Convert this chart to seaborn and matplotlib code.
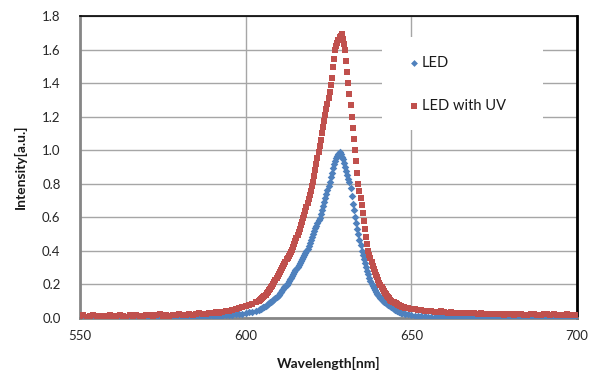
import numpy as np
import pandas as pd
import matplotlib
matplotlib.use("Agg")
import matplotlib.pyplot as plt
from matplotlib.patches import Rectangle
from matplotlib.ticker import FormatStrFormatter
import seaborn as sns

# ---------------- data ----------------
wl_low = [550, 551, 552, 553, 554, 555, 556, 557, 558, 559,
          560, 561, 562, 563, 564, 565, 566, 567, 568, 569,
          570, 571, 572, 573, 574, 575, 576, 577, 578, 579,
          580, 581, 582, 583, 584, 585, 586, 587, 588, 589,
          590, 591, 592, 593, 594, 595, 596, 597, 598, 599,
          600, 601, 602, 603]
wl_mid = [604.00, 604.33, 604.67, 605.00, 605.33, 605.67, 606.00, 606.33, 606.67,
          607.00, 607.33, 607.67, 608.00, 608.33, 608.67, 609.00, 609.33, 609.67,
          610.00, 610.33, 610.67, 611.00, 611.33, 611.67, 612.00, 612.33, 612.67,
          613.00, 613.33, 613.67, 614.00, 614.33, 614.67, 615.00, 615.33, 615.67,
          616.00, 616.33, 616.67, 617.00, 617.33, 617.67, 618.00, 618.33, 618.67,
          619.00, 619.33, 619.67, 620.00, 620.33, 620.67, 621.00, 621.33, 621.67,
          622.00, 622.33, 622.67, 623.00, 623.33, 623.67, 624.00, 624.33, 624.67,
          625.00, 625.33, 625.67, 626.00, 626.33, 626.67, 627.00, 627.33, 627.67,
          628.00, 628.33, 628.67, 629.00, 629.33, 629.67, 630.00, 630.33, 630.67,
          631.00, 631.33, 631.67, 632.00, 632.33, 632.67, 633.00, 633.33, 633.67,
          634.00, 634.33, 634.67, 635.00, 635.33, 635.67, 636.00, 636.33, 636.67,
          637.00, 637.33, 637.67, 638.00, 638.33, 638.67, 639.00, 639.33, 639.67,
          640.00, 640.33, 640.67, 641.00, 641.33, 641.67, 642.00, 642.33, 642.67,
          643.00, 643.33, 643.67, 644.00, 644.33, 644.67, 645.00, 645.33, 645.67,
          646.00, 646.33, 646.67, 647.00, 647.33, 647.67, 648.00]
wl_high = [649, 650, 651, 652, 653, 654, 655, 656, 657, 658,
           659, 660, 661, 662, 663, 664, 665, 666, 667, 668,
           669, 670, 671, 672, 673, 674, 675, 676, 677, 678,
           679, 680, 681, 682, 683, 684, 685, 686, 687, 688,
           689, 690, 691, 692, 693, 694, 695, 696, 697, 698,
           699, 700]

led_low = [0.004, 0.006, 0.003, 0.005, 0.007, 0.004, 0.002, 0.005, 0.006, 0.003,
           0.005, 0.004, 0.007, 0.005, 0.003, 0.006, 0.004, 0.005, 0.007, 0.004,
           0.006, 0.005, 0.003, 0.006, 0.005, 0.007, 0.004, 0.006, 0.005, 0.008,
           0.006, 0.005, 0.007, 0.006, 0.008, 0.007, 0.007, 0.008, 0.009, 0.010,
           0.011, 0.012, 0.013, 0.014, 0.016, 0.017, 0.019, 0.021, 0.023, 0.026,
           0.029, 0.033, 0.037, 0.042]
led_mid = [0.048, 0.052, 0.056, 0.060, 0.064, 0.068, 0.072, 0.077, 0.082,
           0.087, 0.093, 0.098, 0.104, 0.110, 0.116, 0.122, 0.128, 0.134,
           0.140, 0.148, 0.156, 0.165, 0.173, 0.182, 0.190, 0.198, 0.209,
           0.220, 0.230, 0.241, 0.252, 0.262, 0.273, 0.284, 0.295, 0.306,
           0.317, 0.329, 0.340, 0.352, 0.363, 0.375, 0.386, 0.398, 0.414,
           0.431, 0.449, 0.466, 0.484, 0.502, 0.518, 0.534, 0.550, 0.566,
           0.582, 0.598, 0.619, 0.643, 0.667, 0.690, 0.714, 0.738, 0.762,
           0.786, 0.811, 0.839, 0.867, 0.895, 0.915, 0.933, 0.951, 0.965,
           0.978, 0.990, 0.975, 0.962, 0.948, 0.924, 0.900, 0.876, 0.852,
           0.831, 0.811, 0.776, 0.729, 0.681, 0.641, 0.600, 0.567, 0.533,
           0.500, 0.467, 0.433, 0.400, 0.376, 0.353, 0.329, 0.305, 0.283,
           0.262, 0.241, 0.221, 0.200, 0.189, 0.178, 0.167, 0.156, 0.146,
           0.137, 0.129, 0.121, 0.112, 0.104, 0.098, 0.093, 0.089, 0.084,
           0.080, 0.075, 0.070, 0.065, 0.060, 0.055, 0.050, 0.047, 0.043,
           0.040, 0.037, 0.033, 0.030, 0.028, 0.027, 0.025]
led_high = [0.021, 0.017, 0.014, 0.012, 0.010, 0.009, 0.008,
            0.007, 0.006, 0.008, 0.005, 0.006, 0.007, 0.005, 0.004, 0.006, 0.005,
            0.007, 0.004, 0.005, 0.006, 0.004, 0.005, 0.003, 0.006, 0.004, 0.005,
            0.007, 0.004, 0.005, 0.003, 0.006, 0.004, 0.005, 0.003, 0.004, 0.006,
            0.004, 0.003, 0.005, 0.004, 0.006, 0.003, 0.004, 0.005, 0.003, 0.004,
            0.006, 0.004, 0.003, 0.005, 0.004]

uv_low = [0.010, 0.015, 0.008, 0.012, 0.018, 0.010, 0.006, 0.014, 0.011, 0.016,
          0.009, 0.013, 0.020, 0.012, 0.008, 0.015, 0.011, 0.017, 0.013, 0.009,
          0.016, 0.019, 0.012, 0.015, 0.021, 0.014, 0.018, 0.013, 0.020, 0.016,
          0.022, 0.017, 0.020, 0.024, 0.019, 0.023, 0.027, 0.022, 0.026, 0.030,
          0.028, 0.033, 0.031, 0.036, 0.040, 0.043, 0.048, 0.052, 0.058, 0.064,
          0.072, 0.078, 0.085, 0.093]
uv_mid = [0.102, 0.108, 0.113, 0.119, 0.126, 0.133, 0.140, 0.148, 0.157,
          0.166, 0.174, 0.183, 0.192, 0.201, 0.214, 0.226, 0.238, 0.251,
          0.263, 0.275, 0.288, 0.300, 0.311, 0.323, 0.334, 0.349, 0.357,
          0.369, 0.380, 0.392, 0.405, 0.423, 0.440, 0.458, 0.475, 0.493,
          0.512, 0.533, 0.554, 0.575, 0.596, 0.612, 0.640, 0.662, 0.685,
          0.708, 0.733, 0.759, 0.785, 0.813, 0.847, 0.880, 0.915, 0.952,
          0.989, 1.025, 1.063, 1.100, 1.137, 1.174, 1.210, 1.243, 1.277,
          1.311, 1.348, 1.386, 1.433, 1.495, 1.545, 1.600, 1.621, 1.642,
          1.659, 1.673, 1.683, 1.690, 1.664, 1.633, 1.600, 1.534, 1.466,
          1.400, 1.334, 1.272, 1.200, 1.134, 1.066, 1.000, 0.934, 0.866,
          0.800, 0.759, 0.716, 0.671, 0.624, 0.576, 0.529, 0.483, 0.441,
          0.400, 0.378, 0.356, 0.333, 0.311, 0.292, 0.275, 0.258, 0.242,
          0.225, 0.208, 0.196, 0.184, 0.173, 0.162, 0.150, 0.142, 0.133,
          0.125, 0.117, 0.108, 0.100, 0.097, 0.093, 0.090, 0.087, 0.083,
          0.080, 0.077, 0.073, 0.070, 0.067, 0.063, 0.060]
uv_high = [0.058, 0.055, 0.052, 0.049, 0.046, 0.044, 0.041, 0.043, 0.038, 0.036,
           0.039, 0.034, 0.032, 0.035, 0.030, 0.032, 0.028, 0.030, 0.032, 0.027,
           0.029, 0.025, 0.028, 0.024, 0.026, 0.022, 0.025, 0.022, 0.026, 0.020,
           0.024, 0.021, 0.019, 0.023, 0.025, 0.020, 0.018, 0.022, 0.024, 0.019,
           0.017, 0.021, 0.023, 0.018, 0.021, 0.017, 0.020, 0.016, 0.021, 0.018,
           0.015, 0.019]

series_names = ["LED", "LED with UV"]
x_ticks = [550, 600, 650, 700]
y_ticks = [0.0, 0.2, 0.4, 0.6, 0.8, 1.0, 1.2, 1.4, 1.6, 1.8]

wavelength = wl_low + wl_mid + wl_high
led = led_low + led_mid + led_high
uv = uv_low + uv_mid + uv_high
df = pd.DataFrame({"Wavelength": wavelength, "LED": led, "UV": uv})

# ---------------- figure ----------------
sns.set_style("white")
plt.rcParams["font.family"] = ["Lato", "DejaVu Sans"]

fig = plt.figure(figsize=(6.01, 3.75), dpi=100)
ax = fig.add_axes([80 / 601, 1 - 318 / 375, 497 / 601, 302 / 375])

blue = "#4F81BD"
red = "#C0504D"
sns.scatterplot(data=df, x="Wavelength", y="LED", marker="D", s=15, color=blue,
                linewidth=0, label=series_names[0], ax=ax, zorder=3)
sns.scatterplot(data=df, x="Wavelength", y="UV", marker="s", s=20, color=red,
                linewidth=0, label=series_names[1], ax=ax, zorder=4)

ax.set_xlim(550, 700)
ax.set_ylim(0, 1.8)
ax.set_xticks(x_ticks)
ax.set_yticks(y_ticks)
ax.yaxis.set_major_formatter(FormatStrFormatter("%.1f"))
ax.set_axisbelow(True)
ax.grid(True, color="#A6A6A6", linewidth=1.0)
ax.tick_params(axis="both", length=0, labelsize=9.5, colors="#262626")
ax.tick_params(axis="y", pad=14)
ax.tick_params(axis="x", pad=9)
ax.set_xlabel("")
ax.set_ylabel("")

for side in ["left", "bottom"]:
    ax.spines[side].set_color("#868686")
    ax.spines[side].set_linewidth(2.0)
ax.spines["top"].set_color("black")
ax.spines["top"].set_linewidth(1.2)
ax.spines["right"].set_color("black")
ax.spines["right"].set_linewidth(2.0)

# white legend area
ax.add_patch(Rectangle((0.608, 0.623), 0.324, 0.307, transform=ax.transAxes,
                       facecolor="white", edgecolor="none", zorder=2))
leg = ax.legend(loc="upper left", bbox_to_anchor=(0.634, 0.917), frameon=False,
                fontsize=10.5, handlelength=0.6, handletextpad=0.23,
                labelspacing=2.0, borderpad=0.5, markerscale=0.9)
for t in leg.get_texts():
    t.set_color("#1a1a1a")

fig.text(328.5 / 601, 1 - 363 / 375, "Wavelength[nm]", ha="center", va="center",
         fontsize=10, fontweight="bold", color="#1a1a1a")
fig.text(20 / 601, 1 - 167 / 375, "Intensity[a.u.]", ha="center", va="center",
         rotation=90, fontsize=10, fontweight="bold", color="#1a1a1a")

fig.savefig("out.png", dpi=100)
